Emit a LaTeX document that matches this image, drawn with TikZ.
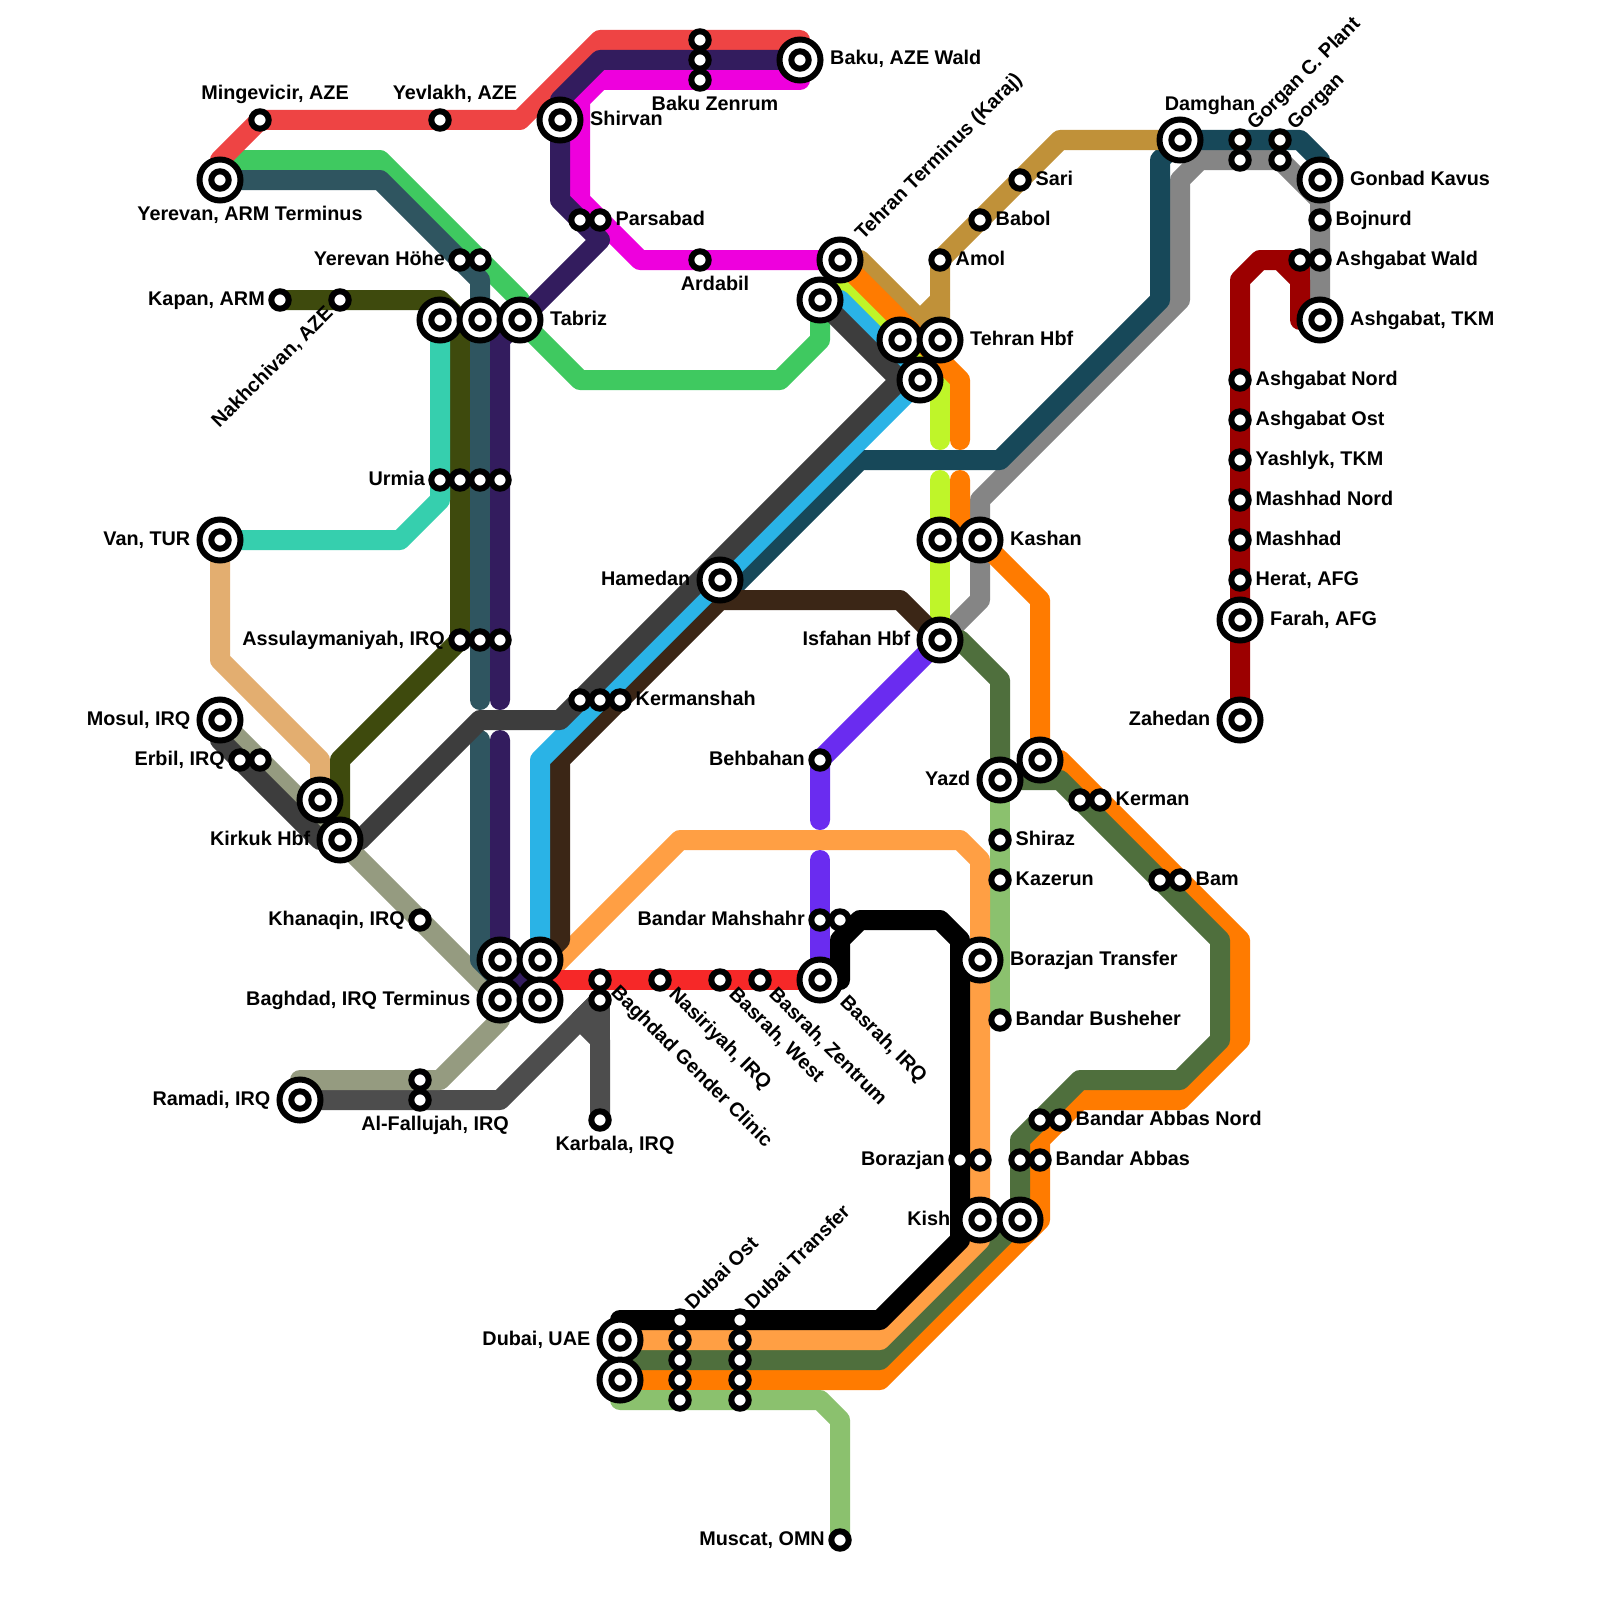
\documentclass[tikz,border=0pt]{standalone}
\usepackage{fontspec}
\setmainfont{Liberation Sans}
\tikzset{
  x=1pt,y=-1pt,
  metro/.style={line width=20pt,line cap=round,line join=round},
  smallst/.style={circle,draw=black,fill=white,line width=6pt,minimum size=17.4pt,inner sep=0pt},
  bigst/.style={circle,draw=black,fill=white,line width=6pt,minimum size=41pt,inner sep=0pt,label={[smallst]center:{}}},
  lab/.style={inner sep=0pt,font=\fontsize{19.8}{22}\selectfont\bfseries,text=black},
  rs/.style={lab,anchor=base west,xshift=15.5pt,yshift=-5pt},
  rb/.style={lab,anchor=base west,xshift=30pt,yshift=-5pt},
  ls/.style={lab,anchor=base east,xshift=-15pt,yshift=-5pt},
  lb/.style={lab,anchor=base east,xshift=-29.5pt,yshift=-5pt},
  ts/.style={lab,anchor=base,xshift=15pt,yshift=20.5pt},
  tb/.style={lab,anchor=base,xshift=30pt,yshift=29.5pt},
  bs/.style={lab,anchor=base,xshift=15pt,yshift=-30.5pt},
  bb/.style={lab,anchor=base,xshift=30pt,yshift=-40.5pt},
  up/.style={lab,anchor=base west,rotate=45},
  dn/.style={lab,anchor=base west,rotate=-45},
}
\definecolor{cred}{HTML}{EE4444}
\definecolor{cpurple}{HTML}{331C5E}
\definecolor{cmag}{HTML}{EE00DD}
\definecolor{cgreen}{HTML}{3FC960}
\definecolor{cslate}{HTML}{2F5560}
\definecolor{colive}{HTML}{3E4A0D}
\definecolor{cmint}{HTML}{36CFAE}
\definecolor{ctan}{HTML}{E3AE70}
\definecolor{csage}{HTML}{959B80}
\definecolor{cdark}{HTML}{3D3D3D}
\definecolor{cgrey}{HTML}{4D4D4D}
\definecolor{cblue}{HTML}{2AB3E6}
\definecolor{cteal}{HTML}{174859}
\definecolor{cbrown}{HTML}{3B2616}
\definecolor{clorange}{HTML}{FF9F44}
\definecolor{cbright}{HTML}{F62828}
\definecolor{cviolet}{HTML}{6A2CF0}
\definecolor{clime}{HTML}{BFF529}
\definecolor{corange}{HTML}{FF7B00}
\definecolor{cdgreen}{HTML}{4F6F3D}
\definecolor{clgreen}{HTML}{8BC16E}
\definecolor{cgold}{HTML}{C09139}
\definecolor{cmid}{HTML}{858585}
\definecolor{cdred}{HTML}{9C0000}
\begin{document}
\begin{tikzpicture}
\useasboundingbox (0,0) rectangle (1600,1600);
\fill[white] (0,0) rectangle (1600,1600);
\foreach \sn/\sx/\sy in {
 yerevan/220/180,mingevicir/260/120,yevlakh/440/120,shirvan/560/120,baku/800/60,
 zena/700/40,zenb/700/60,zenrum/700/80,parsa/580/220,parsabad/600/220,ardabil/700/260,
 tehterm/840/260,teh/820/300,yha/460/260,yhb/480/260,kapan/280/300,nakh/340/300,
 taba/440/320,tabb/480/320,tabriz/520/320,urmia/440/480,urb/460/480,urc/480/480,urd/500/480,
 van/220/540,assul/460/640,assb/480/640,assc/500/640,mosul/220/720,erbil/240/760,erbb/260/760,
 kirka/320/800,kirkuk/340/840,khanaqin/420/920,baga/500/960,bagb/540/960,baghdad/500/1000,bagd/540/1000,
 ramadi/300/1100,falla/420/1080,fallujah/420/1100,gender/600/980,karba/600/1000,karbala/600/1120,
 nasiriyah/660/980,bwest/720/980,bzen/760/980,basrah/820/980,behbahan/820/760,mahshahr/820/920,mahsb/840/920,
 kera/580/700,kerb/600/700,kermanshah/620/700,hamedan/720/580,isfahan/940/640,kasha/940/540,kashan/980/540,
 tha/900/340,thbf/940/340,thc/920/380,amol/940/260,babol/980/220,sari/1020/180,damghan/1180/140,
 gcp/1240/140,gcpb/1240/160,gorgan/1280/140,gorb/1280/160,gonbad/1320/180,bojnurd/1320/220,
 awa/1300/260,awald/1320/260,atkm/1320/320,anord/1240/380,aost/1240/420,yashlyk/1240/460,mnord/1240/500,
 mashhad/1240/540,herat/1240/580,farah/1240/620,zahedan/1240/720,yazd/1000/780,yazdb/1040/760,
 kerm/1080/800,kerman/1100/800,bama/1160/880,bam/1180/880,shiraz/1000/840,kazerun/1000/880,
 bortr/980/960,busheher/1000/1020,bana/1040/1120,bannord/1060/1120,baa/1020/1160,babbas/1040/1160,
 borazjan/960/1160,borb/980/1160,kish/980/1220,kishb/1020/1220,dubai/620/1340,dubaib/620/1380,
 oa/680/1320,ob/680/1340,oc/680/1360,od/680/1380,oe/680/1400,
 tra/740/1320,trb/740/1340,trc/740/1360,trd/740/1380,tre/740/1400,muscat/840/1540}
 {\coordinate (\sn) at (\sx,\sy);}
% lines
\draw[metro,cmid] (isfahan) -- (960,620) -- (980,600) -- (980,500) -- (1180,300) -- (1180,180) -- (1200,160) -- (1280,160) -- (1320,200) -- (atkm);
\draw[metro,cdred] (zahedan) -- (1240,280) -- (1260,260) -- (1280,260) -- (1300,280) -- (1300,320) -- (atkm);
\draw[metro,cdred] (1280,260) -- (awa) -- (1300,280);
\draw[metro,cteal] (hamedan) -- (720,600) -- (860,460) -- (1000,460) -- (1160,300) -- (1160,160) -- (damghan) -- (1300,140) -- (1320,160) -- (gonbad);
\draw[metro,cgold] (tehterm) -- (860,260) -- (920,320) -- (940,300) -- (amol) -- (1060,140) -- (damghan);
\draw[metro,cgold] (920,320) -- (thbf) -- (940,300);
\draw[metro,clime] (tehterm) -- (840,280) -- (940,380) -- (940,440);
\draw[metro,clime] (940,480) -- (isfahan);
\draw[metro,corange] (tehterm) -- (960,380) -- (960,440);
\draw[metro,corange] (960,480) -- (960,540) -- (kashan) -- (1040,600) -- (yazdb) -- (1060,760) -- (1240,940) -- (1240,1040) -- (1180,1100) -- (1080,1100) -- (1040,1140) -- (1040,1220) -- (880,1380) -- (dubaib);
\draw[metro,cdgreen] (isfahan) -- (960,640) -- (1000,680) -- (yazd) -- (1060,780) -- (1220,940) -- (1220,1040) -- (1180,1080) -- (1080,1080) -- (1020,1140) -- (kishb) -- (880,1360) -- (620,1360);
\draw[metro,clgreen] (yazd) -- (busheher);
\draw[metro,clgreen] (dubaib) -- (620,1400) -- (820,1400) -- (840,1420) -- (muscat);
\draw[metro,clorange] (bagd) -- (540,980) -- (680,840) -- (960,840) -- (980,860) -- (kish) -- (980,1240) -- (880,1340) -- (dubai);
\draw[metro,black] (basrah) -- (840,980) -- (840,940) -- (860,920) -- (940,920) -- (960,940) -- (960,1240) -- (880,1320) -- (620,1320);
\draw[metro,cviolet] (isfahan) -- (behbahan) -- (820,820);
\draw[metro,cviolet] (820,860) -- (basrah);
\draw[metro,cbright] (540,980) -- (basrah);
\draw[metro,cgrey] (ramadi) -- (500,1100) -- (karba);
\draw[metro,cgrey] (karba) -- (580,1020) -- (600,1040) -- (karbala);
\draw[metro,cgrey] (karba) -- (600,1040);
\draw[metro,csage] (mosul) -- (baghdad) -- (500,1020) -- (440,1080) -- (300,1080) -- (ramadi);
\draw[metro,ctan] (van) -- (220,660) -- (320,760) -- (kirka);
\draw[metro,colive] (kapan) -- (440,300) -- (460,320) -- (460,640) -- (340,760) -- (kirkuk);
\draw[metro,cmint] (van) -- (400,540) -- (440,500) -- (taba);
\draw[metro,cgreen] (yerevan) -- (240,160) -- (380,160) -- (520,300) -- (tabriz) -- (580,380) -- (780,380) -- (820,340) -- (teh);
\draw[metro,cslate] (yerevan) -- (380,180) -- (480,280) -- (480,700);
\draw[metro,cslate] (480,740) -- (480,960) -- (500,980) -- (baghdad);
\draw[metro,cred] (yerevan) -- (220,160) -- (mingevicir) -- (520,120) -- (600,40) -- (800,40);
\draw[metro,cmag] (800,80) -- (600,80) -- (580,100) -- (580,200) -- (640,260) -- (tehterm);
\draw[metro,cpurple] (baku) -- (600,60) -- (560,100) -- (shirvan) -- (560,200) -- (600,240) -- (500,340) -- (500,700);
\draw[metro,cpurple] (500,740) -- (baga) -- (bagd);
\draw[metro,cbrown] (isfahan) -- (920,620) -- (900,600) -- (720,600) -- (560,760) -- (560,940) -- (bagb);
\draw[metro,cblue] (teh) -- (840,300) -- (920,380) -- (540,760) -- (bagb);
\draw[metro,cdark] (mosul) -- (220,740) -- (320,840) -- (360,840) -- (480,720) -- (560,720) -- (900,380) -- (teh);
\draw[metro,cdark] (900,380) -- (thc);
% stations
\foreach \sn/\sk in {
 mingevicir/smallst,yevlakh/smallst,shirvan/bigst,zena/smallst,zenb/smallst,zenrum/smallst,baku/bigst,
 parsa/smallst,parsabad/smallst,ardabil/smallst,teh/bigst,tehterm/bigst,yerevan/bigst,yha/smallst,yhb/smallst,
 kapan/smallst,nakh/smallst,taba/bigst,tabb/bigst,tabriz/bigst,urmia/smallst,urb/smallst,urc/smallst,urd/smallst,
 van/bigst,assul/smallst,assb/smallst,assc/smallst,mosul/bigst,erbil/smallst,erbb/smallst,kirka/bigst,kirkuk/bigst,
 khanaqin/smallst,baga/bigst,bagb/bigst,baghdad/bigst,bagd/bigst,ramadi/bigst,falla/smallst,fallujah/smallst,
 gender/smallst,karba/smallst,karbala/smallst,nasiriyah/smallst,bwest/smallst,bzen/smallst,basrah/bigst,
 behbahan/smallst,mahshahr/smallst,mahsb/smallst,kera/smallst,kerb/smallst,kermanshah/smallst,hamedan/bigst,
 isfahan/bigst,kasha/bigst,kashan/bigst,tha/bigst,thbf/bigst,thc/bigst,amol/smallst,babol/smallst,sari/smallst,
 damghan/bigst,gcp/smallst,gcpb/smallst,gorgan/smallst,gorb/smallst,gonbad/bigst,bojnurd/smallst,awa/smallst,awald/smallst,atkm/bigst,
 anord/smallst,aost/smallst,yashlyk/smallst,mnord/smallst,mashhad/smallst,herat/smallst,farah/bigst,zahedan/bigst,
 yazd/bigst,yazdb/bigst,kerm/smallst,kerman/smallst,bama/smallst,bam/smallst,shiraz/smallst,kazerun/smallst,
 bortr/bigst,busheher/smallst,bana/smallst,bannord/smallst,baa/smallst,babbas/smallst,borazjan/smallst,borb/smallst,
 kish/bigst,kishb/bigst,dubai/bigst,dubaib/bigst,oa/smallst,ob/smallst,oc/smallst,od/smallst,oe/smallst,
 tra/smallst,trb/smallst,trc/smallst,trd/smallst,tre/smallst,muscat/smallst}
 {\node[\sk] (st-\sn) at (\sn) {};}
% labels
\node[ts] (l1) at (mingevicir) {Mingevicir, AZE};
\node[ts] (l2) at (yevlakh) {Yevlakh, AZE};
\node[rb] (l3) at (shirvan) {Shirvan};
\node[rb] (l4) at (baku) {Baku, AZE Wald};
\node[bs] (l5) at (zenrum) {Baku Zenrum};
\node[bs] (l6) at (ardabil) {Ardabil};
\node[bb] (l7) at (yerevan) {Yerevan, ARM Terminus};
\node[rs] (l8) at (parsabad) {Parsabad};
\node[rb] (l9) at (tabriz) {Tabriz};
\node[ls] (l10) at (yha) {Yerevan Höhe};
\node[ls] (l11) at (kapan) {Kapan, ARM};
\node[ls] (l12) at (urmia) {Urmia};
\node[lb] (l13) at (van) {Van, TUR};
\node[ls] (l14) at (assul) {Assulaymaniyah, IRQ};
\node[lb] (l15) at (hamedan) {Hamedan};
\node[lb] (l16) at (isfahan) {Isfahan Hbf};
\node[lb] (l17) at (mosul) {Mosul, IRQ};
\node[ls] (l18) at (erbil) {Erbil, IRQ};
\node[ls] (l19) at (behbahan) {Behbahan};
\node[lb] (l20) at (yazd) {Yazd};
\node[lb] (l21) at (kirkuk) {Kirkuk Hbf};
\node[ls] (l22) at (khanaqin) {Khanaqin, IRQ};
\node[ls] (l23) at (mahshahr) {Bandar Mahshahr};
\node[lb] (l24) at (baghdad) {Baghdad, IRQ Terminus};
\node[lb] (l25) at (ramadi) {Ramadi, IRQ};
\node[ls] (l26) at (borazjan) {Borazjan};
\node[lb] (l27) at (kish) {Kish};
\node[lb] (l28) at (dubai) {Dubai, UAE};
\node[lb] (l29) at (zahedan) {Zahedan};
\node[ls] (l30) at (muscat) {Muscat, OMN};
\node[bs] (l31) at (fallujah) {Al-Fallujah, IRQ};
\node[bs] (l32) at (karbala) {Karbala, IRQ};
\node[tb] (l33) at (damghan) {Damghan};
\node[rs] (l34) at (sari) {Sari};
\node[rs] (l35) at (babol) {Babol};
\node[rs] (l36) at (amol) {Amol};
\node[rb] (l37) at (thbf) {Tehran Hbf};
\node[rb] (l38) at (gonbad) {Gonbad Kavus};
\node[rs] (l39) at (bojnurd) {Bojnurd};
\node[rs] (l40) at (awald) {Ashgabat Wald};
\node[rb] (l41) at (atkm) {Ashgabat, TKM};
\node[rs] (l42) at (anord) {Ashgabat Nord};
\node[rs] (l43) at (aost) {Ashgabat Ost};
\node[rs] (l44) at (yashlyk) {Yashlyk, TKM};
\node[rs] (l45) at (mnord) {Mashhad Nord};
\node[rs] (l46) at (mashhad) {Mashhad};
\node[rs] (l47) at (herat) {Herat, AFG};
\node[rb] (l48) at (farah) {Farah, AFG};
\node[rb] (l49) at (kashan) {Kashan};
\node[rs] (l50) at (kermanshah) {Kermanshah};
\node[rs] (l51) at (kerman) {Kerman};
\node[rs] (l52) at (bam) {Bam};
\node[rs] (l53) at (shiraz) {Shiraz};
\node[rs] (l54) at (kazerun) {Kazerun};
\node[rb] (l55) at (bortr) {Borazjan Transfer};
\node[rs] (l56) at (busheher) {Bandar Busheher};
\node[rs] (l57) at (bannord) {Bandar Abbas Nord};
\node[rs] (l58) at (babbas) {Bandar Abbas};
\node[up] (l59) at ([shift={(23,-19)}]tehterm) {Tehran Terminus (Karaj)};
\node[up] (l60) at ([shift={(15,-9)}]gcp) {Gorgan C. Plant};
\node[up] (l61) at ([shift={(15,-9)}]gorgan) {Gorgan};
\node[up] (l62) at ([shift={(13,-9)}]oa) {Dubai Ost};
\node[up] (l63) at ([shift={(13,-9)}]tra) {Dubai Transfer};
\node[lab,anchor=base east,rotate=45] (l64) at ([shift={(-6,14)}]nakh) {Nakhchivan, AZE};
\node[dn] (l65) at ([shift={(8,15)}]nasiriyah) {Nasiriyah, IRQ};
\node[dn] (l66) at ([shift={(8,15)}]bwest) {Basrah, West};
\node[dn] (l67) at ([shift={(8,15)}]bzen) {Basrah, Zentrum};
\node[dn] (l68) at ([shift={(19,23)}]basrah) {Basrah, IRQ};
\node[dn] (l69) at ([shift={(10,13)}]gender) {Baghdad Gender Clinic};
\end{tikzpicture}
\end{document}
